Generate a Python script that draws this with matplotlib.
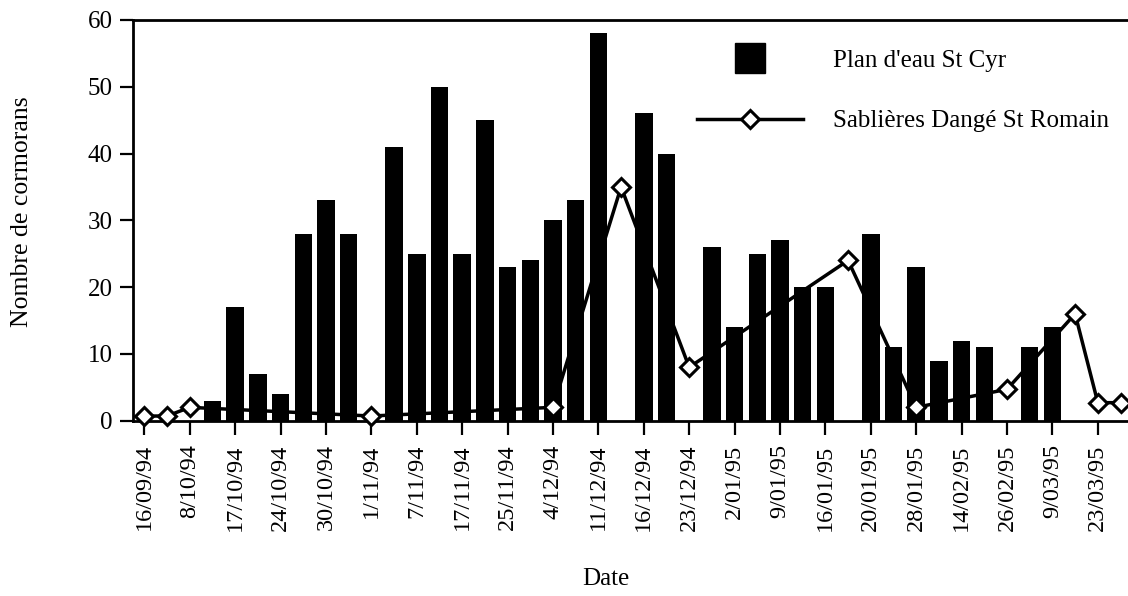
import numpy as np
import matplotlib
matplotlib.use("Agg")
import matplotlib.pyplot as plt
from matplotlib.lines import Line2D

# comptages par date (0 = pas de barre, nan = pas de point)
stCyr = [0, 0, 0, 3, 17, 7, 4, 28, 33, 28, 0, 41, 25, 50, 25, 45, 23, 24, 30, 33, 58, 0,
         46, 40, 0, 26, 14, 25, 27, 20, 20, 0, 28, 11, 23, 9, 12, 11, 0, 11, 14, 0, 0, 0]
nan = np.nan
dange = [0.7, 0.7, 2, nan, nan, nan, nan, nan, nan, nan, 0.7, nan, nan, nan, nan, nan, nan, nan,
         2, nan, nan, 35, nan, nan, 8, nan, nan, nan, nan, nan, nan, 24, nan, nan, 2, nan, nan,
         nan, 4.7, nan, nan, 16, 2.7, 2.7]
dateLabels = ["16/09/94", "8/10/94", "17/10/94", "24/10/94", "30/10/94", "1/11/94", "7/11/94",
              "17/11/94", "25/11/94", "4/12/94", "11/12/94", "16/12/94", "23/12/94", "2/01/95",
              "9/01/95", "16/01/95", "20/01/95", "28/01/95", "14/02/95", "26/02/95", "9/03/95",
              "23/03/95"]
yTicks = [0, 10, 20, 30, 40, 50, 60]

plt.rcParams['font.family'] = ['Liberation Serif', 'DejaVu Serif']
fs = 18

fig = plt.figure(figsize=(11.28, 5.96), dpi=100)
ax = fig.add_axes([133/1128, 1 - 420.7/596, 995/1128, 400.7/596])

x = np.arange(len(stCyr))
ax.bar(x, stCyr, width=0.77, color='black', linewidth=0, zorder=2)

y = np.array(dange, dtype=float)
ok = ~np.isnan(y)
ax.plot(x[ok], y[ok], color='black', lw=2.5, marker='D', markersize=9.5,
        markerfacecolor='white', markeredgecolor='black', markeredgewidth=2.2, zorder=3,
        clip_on=False)

ax.set_xlim(-0.5, 43.33)
ax.set_ylim(0, 60)
ax.set_xticks(x[::2])
ax.set_xticklabels(dateLabels, rotation=90, fontsize=17.5)
ax.set_yticks(yTicks)
ax.set_yticklabels([str(v) for v in yTicks], fontsize=fs)
ax.tick_params(axis='x', direction='out', length=10, width=1.6, pad=7)
ax.tick_params(axis='y', direction='out', length=9.5, width=1.6, pad=5)

for s in ['left', 'top', 'bottom']:
    ax.spines[s].set_linewidth(2)
ax.spines['right'].set_visible(False)

ax.set_xlabel("Date", fontsize=fs)
ax.xaxis.set_label_coords((606 - 133) / 995, (420.7 - 568) / 400.7)
ax.set_ylabel("Nombre de cormorans", fontsize=18.5)
ax.yaxis.set_label_coords((33 - 133) / 995, (420.7 - 212) / 400.7)

handles = [Line2D([], [], color='black', marker='s', linestyle='none', markersize=21),
           Line2D([], [], color='black', lw=2.5, marker='D', markersize=9.5,
                  markerfacecolor='white', markeredgecolor='black', markeredgewidth=2.2)]
ax.legend(handles, ["Plan d'eau St Cyr", "Sablières Dangé St Romain"], loc='upper left',
          bbox_to_anchor=(697/1128, 1 - 49/596), bbox_transform=fig.transFigure,
          frameon=False, fontsize=fs, handlelength=4.24, handletextpad=1.2,
          labelspacing=1.53, borderpad=0, borderaxespad=0)

fig.savefig("out.png", dpi=100)
